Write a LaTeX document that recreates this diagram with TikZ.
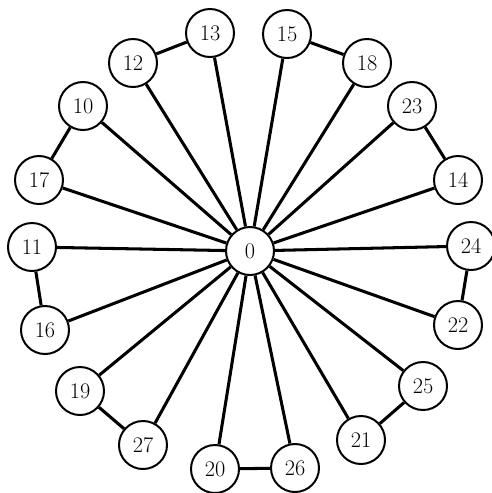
\documentclass[tikz,border=0pt]{standalone}
\usepackage{tikz}
\begin{document}
\begin{tikzpicture}[x=0.03cm,y=-0.03cm,
  vert/.style={circle,draw=black,fill=white,line width=1.7pt,minimum size=1.44cm,
    inner sep=0pt,font=\fontsize{19}{22}\selectfont},
  link/.style={black,line width=2.6pt}
]
\useasboundingbox (0,0) rectangle (491,493);
\node[vert] (n0) at (250,251) {0};
\node[vert] (n13) at (210,33) {13};
\node[vert] (n15) at (287,34) {15};
\node[vert] (n12) at (133,63) {12};
\node[vert] (n18) at (367,63) {18};
\node[vert] (n10) at (83,106) {10};
\node[vert] (n23) at (412,106) {23};
\node[vert] (n17) at (39,180) {17};
\node[vert] (n14) at (458,180) {14};
\node[vert] (n11) at (32,247) {11};
\node[vert] (n24) at (471,246) {24};
\node[vert] (n16) at (45,330) {16};
\node[vert] (n22) at (458,325) {22};
\node[vert] (n19) at (80,391) {19};
\node[vert] (n25) at (423,386) {25};
\node[vert] (n27) at (143,445) {27};
\node[vert] (n21) at (361,440) {21};
\node[vert] (n20) at (215,469) {20};
\node[vert] (n26) at (295,468) {26};

% spokes
\draw[link] (n0) -- (n13);
\draw[link] (n0) -- (n15);
\draw[link] (n0) -- (n12);
\draw[link] (n0) -- (n18);
\draw[link] (n0) -- (n10);
\draw[link] (n0) -- (n23);
\draw[link] (n0) -- (n17);
\draw[link] (n0) -- (n14);
\draw[link] (n0) -- (n11);
\draw[link] (n0) -- (n24);
\draw[link] (n0) -- (n16);
\draw[link] (n0) -- (n22);
\draw[link] (n0) -- (n19);
\draw[link] (n0) -- (n25);
\draw[link] (n0) -- (n27);
\draw[link] (n0) -- (n21);
\draw[link] (n0) -- (n20);
\draw[link] (n0) -- (n26);

% rim pairs
\draw[link] (n12) -- (n13);
\draw[link] (n15) -- (n18);
\draw[link] (n10) -- (n17);
\draw[link] (n23) -- (n14);
\draw[link] (n11) -- (n16);
\draw[link] (n24) -- (n22);
\draw[link] (n19) -- (n27);
\draw[link] (n25) -- (n21);
\draw[link] (n20) -- (n26);
\end{tikzpicture}
\end{document}
